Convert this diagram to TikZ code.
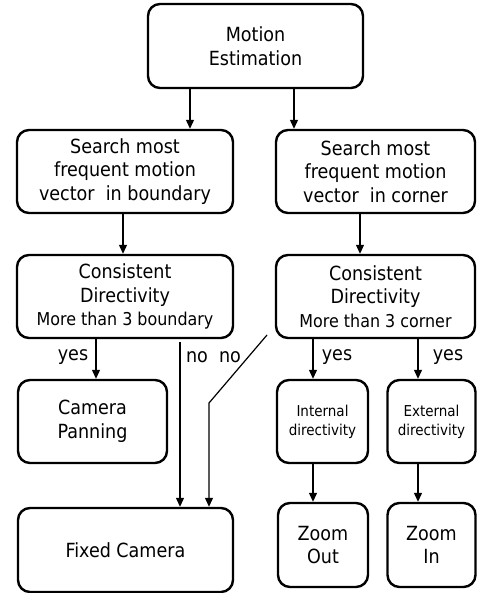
\documentclass[tikz,border=0pt]{standalone}
\usepackage{fontspec}
\setmainfont{DejaVu Sans Condensed}
\usetikzlibrary{arrows.meta}
\begin{document}
\begin{tikzpicture}[x=1pt,y=-1pt,
  box/.style={draw,line width=2.4pt,rounded corners=12pt,inner sep=0pt,align=center,
    font=\fontsize{19.5}{23.5}\selectfont},
  small/.style={font=\fontsize{17.7}{23}\selectfont},
  tiny/.style={font=\fontsize{15}{19}\selectfont},
  arr/.style={line width=1.2pt,-{Triangle[length=9pt,width=8pt]}},
  lbl/.style={font=\fontsize{19.5}{23.5}\selectfont,inner sep=0pt}]
\useasboundingbox (0,0) rectangle (477,593);
\node[box,minimum width=215pt,minimum height=84pt] (me) at (255.5,46) {Motion\\Estimation};
\node[box,minimum width=216pt,minimum height=83pt] (sl) at (125,171.5) {Search most\\frequent motion\\vector~ in boundary};
\node[box,minimum width=199pt,minimum height=83pt] (sr) at (375.5,171.5) {Search most\\frequent motion\\vector~ in corner};
\node[box,minimum width=216pt,minimum height=83pt] (cl) at (125,296.5) {Consistent\\Directivity\\{\fontsize{17.7}{23}\selectfont More than 3 boundary}};
\node[box,minimum width=199pt,minimum height=83pt] (cr) at (375.5,296.5) {Consistent\\Directivity\\{\fontsize{17.7}{23}\selectfont More than 3 corner}};
\node[box,minimum width=149pt,minimum height=83pt] (pan) at (92.5,421.5) {Camera\\Panning};
\node[box,tiny,minimum width=91pt,minimum height=83pt] (int) at (322.5,421.5) {Internal\\directivity};
\node[box,tiny,minimum width=88pt,minimum height=83pt] (ext) at (431.5,421.5) {External\\directivity};
\node[box,minimum width=215pt,minimum height=84pt] (fix) at (125.5,550) {Fixed Camera};
\node[box,minimum width=90pt,minimum height=84pt] (zo) at (323,545) {Zoom\\Out};
\node[box,minimum width=88pt,minimum height=84pt] (zi) at (431.5,545) {Zoom\\In};
\coordinate (xa) at (190,0);
\coordinate (xb) at (294,0);
\coordinate (xc) at (123,0);
\coordinate (xd) at (360,0);
\coordinate (xe) at (96,0);
\coordinate (xf) at (313,0);
\coordinate (xg) at (418,0);
\coordinate (xh) at (180,0);
\coordinate (nostart) at (267,335);
\coordinate (nobend) at (209,403);
\draw[arr] (me.south -| xa) -- (sl.north -| xa);
\draw[arr] (me.south -| xb) -- (sr.north -| xb);
\draw[arr] (sl.south -| xc) -- (cl.north -| xc);
\draw[arr] (sr.south -| xd) -- (cr.north -| xd);
\draw[arr] (cl.south -| xe) -- (pan.north -| xe);
\draw[arr] (cr.south -| xf) -- (int.north -| xf);
\draw[arr] (cr.south -| xg) -- (ext.north -| xg);
\draw[arr] (int.south -| xf) -- (zo.north -| xf);
\draw[arr] (ext.south -| xg) -- (zi.north -| xg);
\draw[arr] ([yshift=-3pt]cl.south -| xh) -- (fix.north -| xh);
\draw[arr] (nostart) -- (nobend) -- (fix.north -| nobend);
\node[lbl] (y1) at (73,357) {yes};
\node[lbl] (n1) at (197,357) {no};
\node[lbl] (n2) at (230,357) {no};
\node[lbl] (y2) at (337,357) {yes};
\node[lbl] (y3) at (448,357) {yes};
\end{tikzpicture}
\end{document}
